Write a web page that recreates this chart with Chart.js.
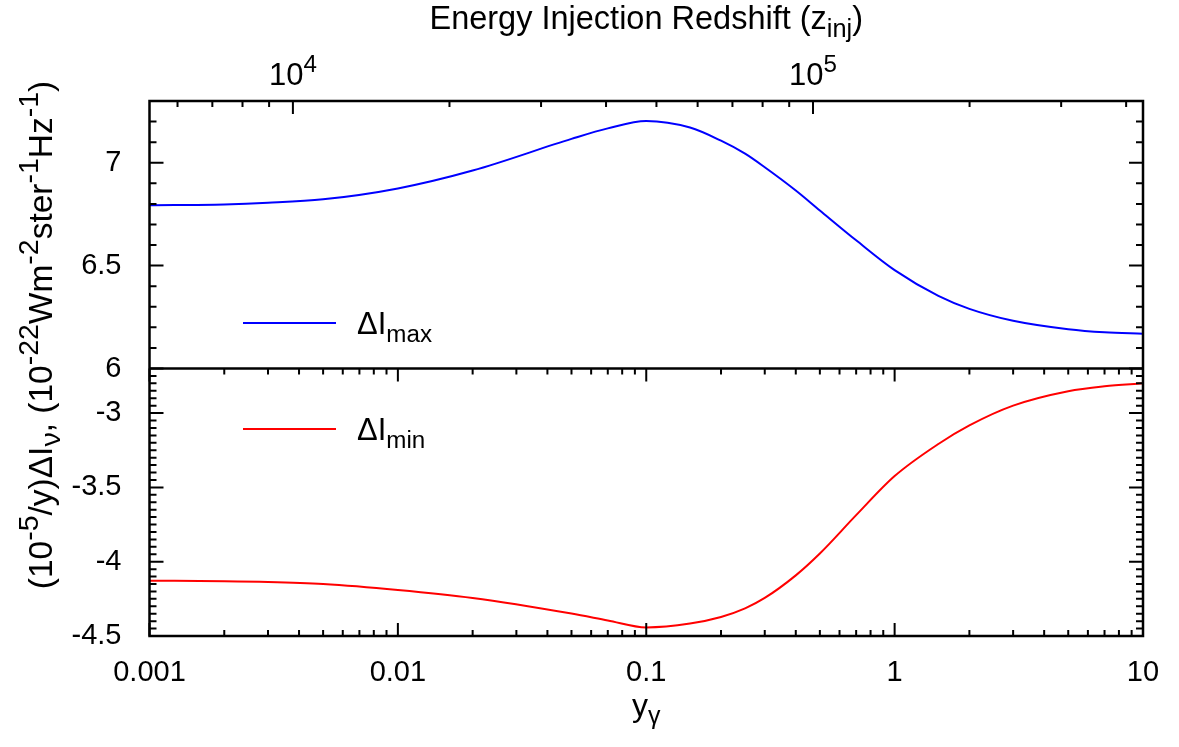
<!DOCTYPE html>
<html>
<head>
<meta charset="utf-8">
<script src="https://cdn.jsdelivr.net/npm/chart.js@4.4.0/dist/chart.umd.min.js"></script>
<style>
  html, body { margin: 0; padding: 0; background: #fff; }
</style>
</head>
<body>
<canvas id="chart" width="1179" height="747"></canvas>
<script>
const FONT = '"Liberation Sans", Arial, Helvetica, sans-serif';

// photon y-parameter samples and the two intensity curves
const yGamma    = [0.001, 0.002, 0.003, 0.005, 0.01, 0.02, 0.05, 0.07, 0.1, 0.15, 0.2, 0.25, 0.3, 0.4, 0.5, 0.7, 1, 1.5, 2, 3, 5, 7, 10];
const deltaIMax = [6.793, 6.797, 6.805, 6.822, 6.875, 6.962, 7.116, 7.167, 7.203, 7.171, 7.107, 7.044, 6.978, 6.865, 6.768, 6.623, 6.478, 6.353, 6.29, 6.232, 6.191, 6.176, 6.169];
const deltaIMin = [-4.128, -4.131, -4.136, -4.15, -4.19, -4.244, -4.349, -4.395, -4.442, -4.416, -4.372, -4.314, -4.244, -4.092, -3.945, -3.687, -3.424, -3.208, -3.083, -2.95, -2.853, -2.82, -2.80];

// tick labels
const xTickValues = [0.001, 0.01, 0.1, 1, 10];
const xTickLabels = ['0.001', '0.01', '0.1', '1', '10'];
const upperTickValues = [6, 6.5, 7];
const upperTickLabels = ['6', '6.5', '7'];
const lowerTickValues = [-4.5, -4, -3.5, -3];
const lowerTickLabels = ['-4.5', '-4', '-3.5', '-3'];
const zTickValues = [1e4, 1e5];
const zTickExponents = ['4', '5'];

// injection redshift range spanned by the top axis
const zMin = 5300, zMax = 4.31e5;

const near = (a, b) => Math.abs(a - b) <= 1e-6 * Math.max(1, Math.abs(b));
const findLabel = (vals, labels, v) => {
  const i = vals.findIndex(t => near(t, v));
  return i < 0 ? '' : labels[i];
};

function logTicks(min, max) {
  const out = [];
  for (let e = Math.floor(Math.log10(min)); e <= Math.ceil(Math.log10(max)); e++) {
    for (let m = 1; m < 10; m++) {
      const v = +(m * Math.pow(10, e)).toPrecision(6);
      if (v >= min * 0.9999 && v <= max * 1.0001) out.push({ value: v });
    }
  }
  return out;
}

function linTicks(min, max, step) {
  const out = [];
  const n = Math.round((max - min) / step);
  for (let i = 0; i <= n; i++) out.push({ value: +(min + i * step).toFixed(4) });
  return out;
}

// text with super/subscripts: parts = [[text, shift]], shift 1 = sup, -1 = sub
function richText(ctx, parts, x, y, size, align, scale = 0.78) {
  const small = size * scale;
  let w = 0;
  parts.forEach(([t, s]) => {
    ctx.font = (s ? small : size) + 'px ' + FONT;
    w += ctx.measureText(t).width;
  });
  let cx = align === 'center' ? x - w / 2 : x;
  ctx.textAlign = 'left';
  ctx.textBaseline = 'alphabetic';
  parts.forEach(([t, s]) => {
    ctx.font = (s ? small : size) + 'px ' + FONT;
    const dy = s > 0 ? -size * 0.42 : s < 0 ? size * 0.25 : 0;
    ctx.fillText(t, cx, y + dy);
    cx += ctx.measureText(t).width;
  });
}

const framePlugin = {
  id: 'frame',
  afterDatasetsDraw(chart) {
    const { ctx, chartArea: a, scales } = chart;
    const x = scales.x, xz = scales.xz, yu = scales.yUpper, yl = scales.yLower;
    ctx.save();
    ctx.strokeStyle = '#000';
    ctx.lineWidth = 2;
    ctx.beginPath();
    // y-gamma ticks on the bottom border, mirrored below the divider
    x.ticks.forEach(t => {
      const px = x.getPixelForValue(t.value);
      const len = findLabel(xTickValues, xTickLabels, t.value) ? 13 : 6;
      ctx.moveTo(px, yl.bottom); ctx.lineTo(px, yl.bottom - len);
      ctx.moveTo(px, yl.top); ctx.lineTo(px, yl.top + len);
    });
    // redshift ticks hanging from the top border
    xz.ticks.forEach(t => {
      const px = xz.getPixelForValue(t.value);
      const len = zTickValues.some(v => near(v, t.value)) ? 13 : 6;
      ctx.moveTo(px, yu.top); ctx.lineTo(px, yu.top + len);
    });
    // y ticks on the left and right borders
    [[yu, upperTickValues, upperTickLabels], [yl, lowerTickValues, lowerTickLabels]].forEach(([s, vals, labels]) => {
      s.ticks.forEach(t => {
        const py = s.getPixelForValue(t.value);
        const len = findLabel(vals, labels, t.value) ? 14 : 7;
        ctx.moveTo(a.left, py); ctx.lineTo(a.left + len, py);
        ctx.moveTo(a.right, py); ctx.lineTo(a.right - len, py);
      });
    });
    ctx.stroke();

    ctx.lineWidth = 2.5;
    ctx.strokeRect(a.left, a.top, a.right - a.left, a.bottom - a.top);
    ctx.beginPath();
    ctx.moveTo(a.left, yu.bottom); ctx.lineTo(a.right, yu.bottom);
    ctx.stroke();
    ctx.restore();
  },
  afterDraw(chart) {
    const { ctx, chartArea: a, scales } = chart;
    const xz = scales.xz;
    const midX = (a.left + a.right) / 2;
    ctx.save();
    ctx.fillStyle = '#000';

    // top axis title and labels
    richText(ctx, [['Energy Injection Redshift (z', 0], ['inj', -1], [')', 0]], midX, 29, 32.5, 'center');
    zTickValues.forEach((v, i) => {
      richText(ctx, [['10', 0], [zTickExponents[i], 1]], xz.getPixelForValue(v), 85, 31, 'center');
    });

    // bottom axis title
    richText(ctx, [['y', 0], ['γ', -1]], midX, 716, 32, 'center');

    // legend entries
    ctx.lineWidth = 2;
    ctx.strokeStyle = '#0000ff';
    ctx.beginPath(); ctx.moveTo(243, 323); ctx.lineTo(336, 323); ctx.stroke();
    richText(ctx, [['ΔI', 0], ['max', -1]], 357, 334, 31, 'left');
    ctx.strokeStyle = '#ff0000';
    ctx.beginPath(); ctx.moveTo(243, 429); ctx.lineTo(336, 429); ctx.stroke();
    richText(ctx, [['ΔI', 0], ['min', -1]], 357, 440, 31, 'left');

    // rotated y title
    ctx.translate(52, 335);
    ctx.rotate(-Math.PI / 2);
    richText(ctx, [
      ['(10', 0], ['-5', 1], ['/y)ΔI', 0], ['ν', -1], [', (10', 0], ['-22', 1],
      ['Wm', 0], ['-2', 1], ['ster', 0], ['-1', 1], ['Hz', 0], ['-1', 1], [')', 0]
    ], 0, 0, 33.5, 'center', 0.85);
    ctx.restore();
  }
};

const tickFont = { family: FONT, size: 29 };

new Chart(document.getElementById('chart'), {
  type: 'line',
  data: {
    datasets: [
      {
        label: 'ΔI max',
        data: yGamma.map((v, i) => ({ x: v, y: deltaIMax[i] })),
        xAxisID: 'x',
        yAxisID: 'yUpper',
        borderColor: '#0000ff',
        borderWidth: 2,
        pointRadius: 0,
        cubicInterpolationMode: 'monotone',
      },
      {
        label: 'ΔI min',
        data: yGamma.map((v, i) => ({ x: v, y: deltaIMin[i] })),
        xAxisID: 'x',
        yAxisID: 'yLower',
        borderColor: '#ff0000',
        borderWidth: 2,
        pointRadius: 0,
        cubicInterpolationMode: 'monotone',
      },
    ],
  },
  options: {
    responsive: false,
    animation: false,
    layout: { padding: { left: 0, right: 36, top: 0, bottom: 0 } },
    plugins: {
      legend: { display: false },
      tooltip: { enabled: false },
    },
    scales: {
      x: {
        type: 'logarithmic',
        position: 'bottom',
        min: 0.001,
        max: 10,
        grid: { display: false },
        border: { display: false },
        afterBuildTicks: s => { s.ticks = logTicks(s.min, s.max); },
        afterFit: s => { s.height = 111; },
        ticks: {
          autoSkip: false,
          maxRotation: 0,
          padding: 12,
          color: '#000',
          font: tickFont,
          callback: v => findLabel(xTickValues, xTickLabels, v),
        },
      },
      xz: {
        type: 'logarithmic',
        position: 'top',
        min: zMin,
        max: zMax,
        grid: { display: false },
        border: { display: false },
        afterBuildTicks: s => { s.ticks = logTicks(s.min, s.max); },
        afterFit: s => { s.height = 101; },
        ticks: { display: false },
      },
      // stacked panels on the left: the axis listed last sits on top
      yLower: {
        type: 'linear',
        position: 'left',
        stack: 'panels',
        stackWeight: 1,
        min: -4.5,
        max: -2.7,
        grid: { display: false },
        border: { display: false },
        afterBuildTicks: s => { s.ticks = linTicks(-4.5, -2.7, 0.05); },
        afterFit: s => { s.width = 149.5; },
        ticks: {
          autoSkip: false,
          padding: 20,
          color: '#000',
          font: tickFont,
          callback: v => findLabel(lowerTickValues, lowerTickLabels, v),
        },
      },
      yUpper: {
        type: 'linear',
        position: 'left',
        stack: 'panels',
        stackWeight: 1,
        min: 6,
        max: 7.3,
        grid: { display: false },
        border: { display: false },
        afterBuildTicks: s => { s.ticks = linTicks(6, 7.3, 0.1); },
        afterFit: s => { s.width = 149.5; },
        ticks: {
          autoSkip: false,
          padding: 20,
          color: '#000',
          font: tickFont,
          callback: v => findLabel(upperTickValues, upperTickLabels, v),
        },
      },
    },
  },
  plugins: [framePlugin],
});
</script>
</body>
</html>
